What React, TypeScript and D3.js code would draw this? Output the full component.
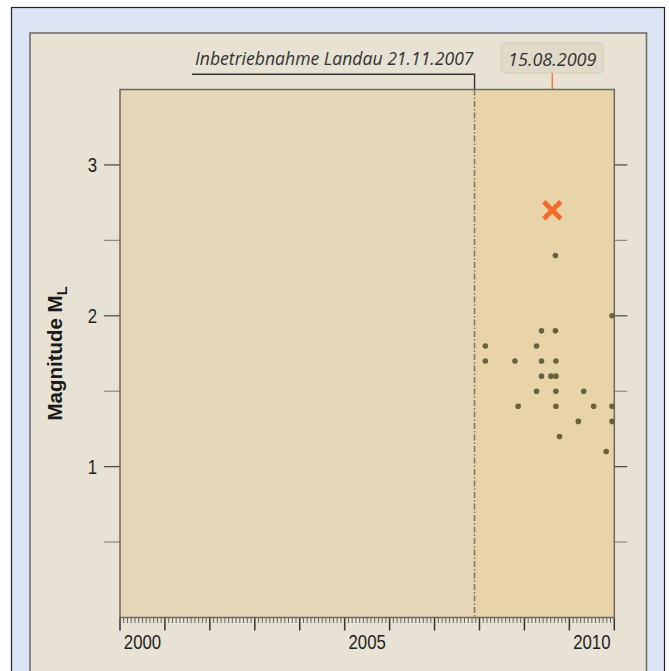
import React from "react";
import * as d3 from "d3";

// Landau seismicity: event dates (decimal years) and local magnitudes
const quakeDates = [
  2009.69, 2010.95, 2009.38, 2009.69, 2008.13, 2009.27, 2008.13, 2008.79,
  2009.38, 2009.7, 2009.38, 2009.59, 2009.7, 2009.27, 2009.7, 2010.32,
  2008.86, 2009.7, 2010.54, 2010.95, 2010.2, 2010.95, 2009.78, 2010.82,
];
const quakeMags = [
  2.4, 2.0, 1.9, 1.9, 1.8, 1.8, 1.7, 1.7, 1.7, 1.7, 1.6, 1.6, 1.6, 1.5, 1.5,
  1.5, 1.4, 1.4, 1.4, 1.4, 1.3, 1.3, 1.2, 1.1,
];
const mainEventDate = 2009.62;
const mainEventMag = 2.7;
const mainEventLabel = "15.08.2009";
const startDate = 2007.89;
const startLabel = "Inbetriebnahme Landau 21.11.2007";
const yearLabels = [2000, 2005, 2010];
const magTicks = [0.5, 1, 1.5, 2, 2.5, 3];
const magLabels = [1, 2, 3];

const W = 669;
const H = 671;
const plot = { left: 120, right: 614.3, top: 89.5, bottom: 617.5 };

const sans = "'Liberation Sans', Arial, sans-serif";
const italic = "'Open Sans', 'DejaVu Sans', sans-serif";

export default function App() {
  const x = d3.scaleLinear().domain([2000, 2011]).range([plot.left, plot.right]);
  const y = d3.scaleLinear().domain([0, 3.5]).range([plot.bottom, plot.top]);

  const months = d3.range(0, 11 * 12 + 1).map((i) => 2000 + i / 12);
  const xStart = x(startDate);
  const xMain = x(mainEventDate);

  return (
    <svg
      width={W}
      height={H}
      style={{ position: "absolute", left: 0, top: 0, display: "block" }}
    >
      {/* frames */}
      <rect x={11.5} y={7.5} width={653} height={720} fill="#dce5f4" stroke="#222" strokeWidth={1.2} />
      <rect x={30} y={33} width={616.5} height={720} fill="#e7e2d3" stroke="#707070" strokeWidth={1.6} />

      {/* plot background */}
      <rect x={plot.left} y={plot.top} width={xStart - plot.left} height={plot.bottom - plot.top} fill="#e6d6b8" />
      <rect x={xStart} y={plot.top} width={plot.right - xStart} height={plot.bottom - plot.top} fill="#e9d3a8" />

      {/* commissioning marker */}
      <line x1={xStart} x2={xStart} y1={plot.top} y2={plot.bottom} stroke="#7d7565" strokeWidth={1.5} strokeDasharray="6,2,1.5,2" />
      <path d={`M192,74.3H${xStart}V${plot.top}`} fill="none" stroke="#333" strokeWidth={1.4} />
      <text x={195} y={65} fontFamily={italic} fontStyle="italic" fontSize={17.6} fill="#333">
        {startLabel}
      </text>

      {/* main event label */}
      <rect x={xMain - 51} y={43} width={102} height={30} rx={4} fill="#e1dac8" stroke="#d4cdba" strokeWidth={1} />
      <text x={xMain} y={65.5} textAnchor="middle" fontFamily={italic} fontStyle="italic" fontSize={18} fill="#333">
        {mainEventLabel}
      </text>
      <line x1={xMain} x2={xMain} y1={73} y2={plot.top} stroke="#f07a3c" strokeWidth={1.5} />

      {/* x axis */}
      {months.map((m, i) => {
        const major = i % 12 === 0;
        return (
          <line
            key={i}
            x1={x(m)}
            x2={x(m)}
            y1={plot.bottom}
            y2={major ? plot.bottom + 13 : plot.bottom + 5.5}
            stroke={major ? "#333" : "#555"}
            strokeWidth={major ? 1.5 : 0.9}
          />
        );
      })}
      {yearLabels.map((yr) => (
        <text
          key={yr}
          transform={`translate(${x(yr + 0.5)},649) scale(0.84,1)`}
          textAnchor="middle"
          fontFamily={sans}
          fontSize={20}
          fill="#222"
        >
          {yr}
        </text>
      ))}

      {/* y axis */}
      {magTicks.map((t) => {
        const major = Number.isInteger(t);
        const c = major ? "#444" : "#888";
        return (
          <g key={t}>
            <line x1={plot.left - 16} x2={plot.left} y1={y(t)} y2={y(t)} stroke={c} strokeWidth={1.2} />
            <line x1={plot.right} x2={plot.right + 13} y1={y(t)} y2={y(t)} stroke={c} strokeWidth={1.2} />
          </g>
        );
      })}
      {magLabels.map((t) => (
        <text
          key={t}
          transform={`translate(97,${y(t) + 7}) scale(0.84,1)`}
          textAnchor="end"
          fontFamily={sans}
          fontSize={20}
          fill="#222"
        >
          {t}
        </text>
      ))}
      <text
        transform={`translate(62,${(plot.top + plot.bottom) / 2}) rotate(-90)`}
        textAnchor="middle"
        fontFamily={sans}
        fontWeight="bold"
        fontSize={20.5}
        fill="#1a1a1a"
      >
        Magnitude M
        <tspan fontSize={14.5} dy={5}>L</tspan>
      </text>

      {/* plot border */}
      <rect x={plot.left} y={plot.top} width={plot.right - plot.left} height={plot.bottom - plot.top} fill="none" stroke="#6e6858" strokeWidth={1.5} />

      {/* events */}
      {quakeDates.map((d, i) => (
        <circle key={i} cx={x(d)} cy={y(quakeMags[i])} r={2.8} fill="#67623f" />
      ))}
      <g transform={`translate(${xMain},${y(mainEventMag)})`} stroke="#f26b2a" strokeWidth={4.8}>
        <line x1={-8.5} y1={-8.5} x2={8.5} y2={8.5} />
        <line x1={-8.5} y1={8.5} x2={8.5} y2={-8.5} />
      </g>
    </svg>
  );
}
